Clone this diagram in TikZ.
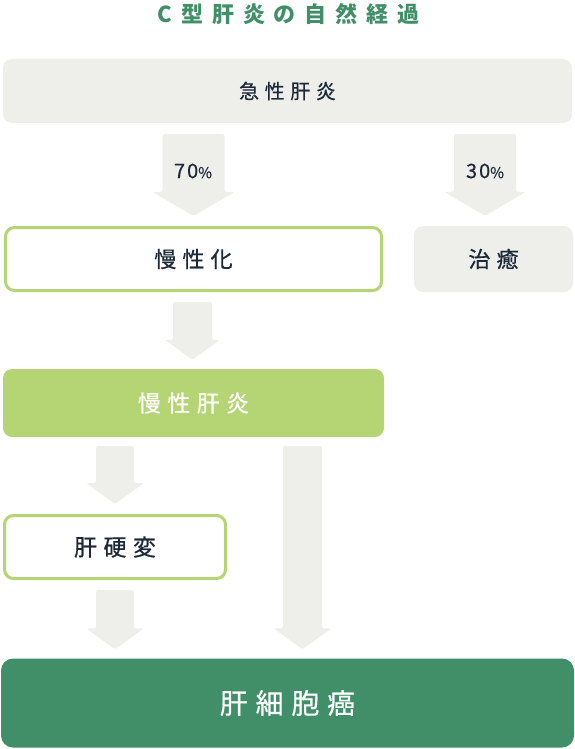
\documentclass[tikz,border=0pt]{standalone}
\usepackage{fontspec}
\setmainfont{Noto Sans CJK JP}
\newfontfamily\jpfont[LetterSpace=28,FakeBold=0.6]{Noto Sans CJK JP}
\newfontfamily\numfont[LetterSpace=10,FakeBold=0.4]{Noto Sans CJK JP}
\newfontfamily\ttlfont[LetterSpace=40]{Noto Sans CJK JP}
\usetikzlibrary{positioning,calc}
\definecolor{hcgray}{RGB}{238,238,234}
\definecolor{hclight}{RGB}{181,213,116}
\definecolor{hcdark}{RGB}{65,143,104}
\definecolor{hctext}{RGB}{28,40,56}
\tikzset{
  stbox/.style={rounded corners=9pt,inner sep=0pt,text=hctext,
    font=\jpfont\fontsize{22}{26}\selectfont},
  stgray/.style={stbox,fill=hcgray},
  stwhite/.style={stbox,fill=white,draw=hclight,line width=3pt},
  stlight/.style={stbox,fill=hclight,text=white},
  stdark/.style={stbox,fill=hcdark,text=white,rounded corners=12pt,
    font=\jpfont\fontsize{28}{32}\selectfont},
  arrfill/.style={fill=hcgray,rounded corners=1.5pt},
  pctlbl/.style={text=hctext,font=\numfont\fontsize{20}{24}\selectfont},
  ttl/.style={text=hcdark,font=\ttlfont\bfseries\fontsize{22}{26}\selectfont},
}
% block arrow: top, tip, shaft half width, head half width, head length
\newcommand{\blockarr}[5]{%
  \fill[arrfill] ($(#1)+(-#3,0)$) -- ($(#2)+(-#3,-#5)$) -- ($(#2)+(-#4,-#5)$)
    -- (#2) -- ($(#2)+(#4,-#5)$) -- ($(#2)+(#3,-#5)$) -- ($(#1)+(#3,0)$) -- cycle;}
\begin{document}
\begin{tikzpicture}[x=1pt,y=-1pt]
  \useasboundingbox (0,0) rectangle (575,749);
  \node[ttl] (title) at (288.5,14) {C型肝炎の自然経過};
  \node[stgray,minimum width=569pt,minimum height=64pt,
    font=\jpfont\fontsize{20}{24}\selectfont] (acute) at (287.5,91) {急性肝炎};
  \node[stwhite,minimum width=376pt,minimum height=63pt] (chron) at (193.5,259) {慢性化};
  \node[stgray,minimum width=159pt,minimum height=66pt] (cure) at (493.5,259) {治癒};
  \node[stlight,minimum width=381pt,minimum height=68pt,
    font=\jpfont\fontsize{23}{27}\selectfont] (chrhep) at (193.5,403) {慢性肝炎};
  \node[stwhite,minimum width=221pt,minimum height=63pt,
    font=\jpfont\fontsize{23}{27}\selectfont] (cirr) at (115,547) {肝硬変};
  \node[stdark,minimum width=573pt,minimum height=89pt] (hcc) at (287.5,703) {肝細胞癌};
  % arrow ends
  \coordinate (a1s) at ($(acute.south -| chron.north)+(0,11)$);
  \coordinate (a1e) at ($(chron.north)+(0,-10)$);
  \coordinate (a2e) at ($(cure.north)+(-8.5,-10)$);
  \coordinate (a2s) at (a2e |- a1s);
  \coordinate (a3s) at ($(chron.south)+(-1,10)$);
  \coordinate (a3e) at ($(chrhep.north)+(-1,-9)$);
  \coordinate (a4s) at ($(chrhep.south -| cirr.north)+(0,9)$);
  \coordinate (a4e) at ($(cirr.north)+(0,-10)$);
  \coordinate (a6s) at ($(cirr.south)+(0,10)$);
  \coordinate (a6e) at ($(hcc.north -| cirr.north)+(0,-9)$);
  \coordinate (a5s) at (302.5,0 |- a4s);
  \coordinate (a5e) at (a5s |- a6e);
  \blockarr{a1s}{a1e}{31}{41}{24}
  \blockarr{a2s}{a2e}{31}{41}{24}
  \blockarr{a3s}{a3e}{19.5}{27.5}{20}
  \blockarr{a4s}{a4e}{19}{29}{21}
  \blockarr{a5s}{a5e}{19.5}{29}{21}
  \blockarr{a6s}{a6e}{19}{29}{21}
  \node[pctlbl] (p70) at (193,171) {70{\fontsize{15}{18}\selectfont\%}};
  \node[pctlbl] (p30) at (485,171) {30{\fontsize{15}{18}\selectfont\%}};
\end{tikzpicture}
\end{document}
